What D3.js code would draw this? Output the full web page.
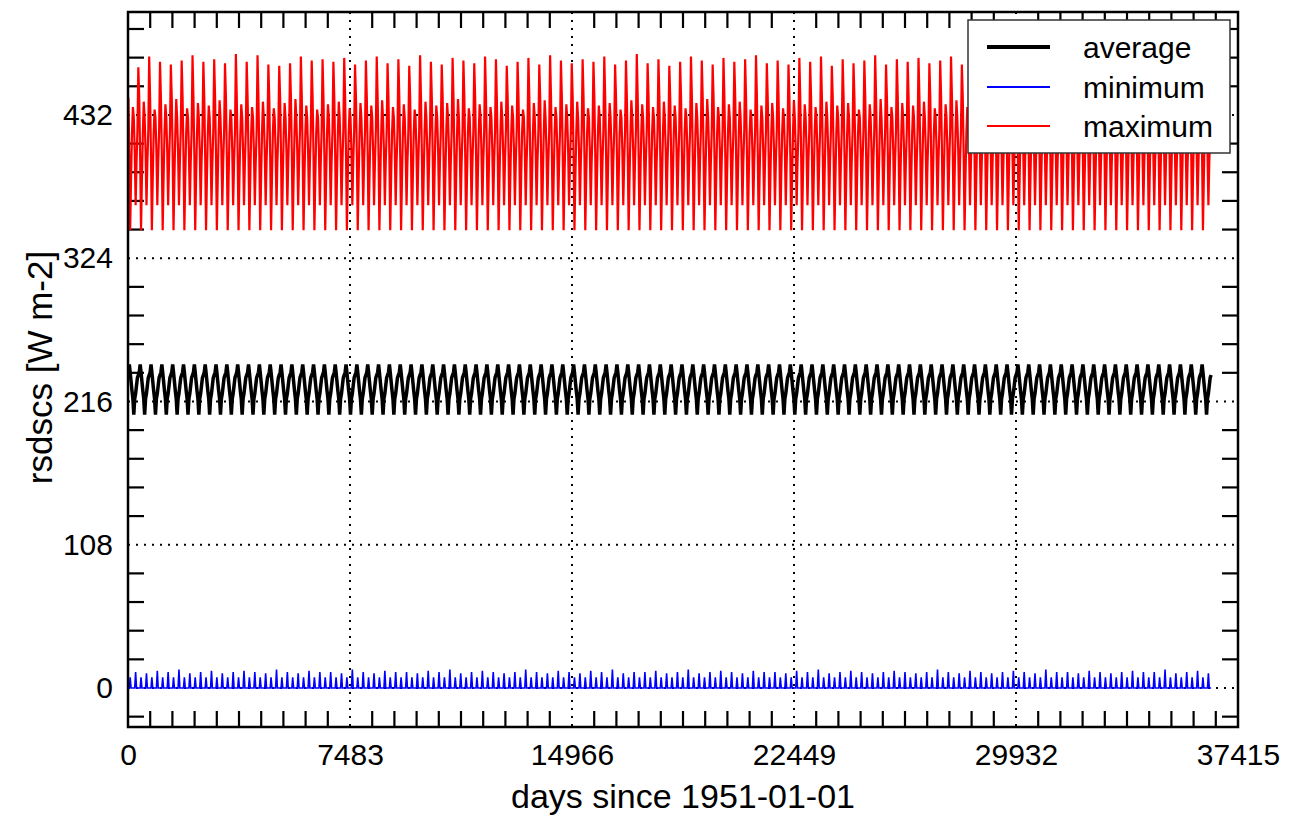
<!DOCTYPE html>
<html><head><meta charset="utf-8">
<script src="https://cdn.jsdelivr.net/npm/d3@7"></script>
<style>
body{margin:0;background:#fff}
svg{display:block}
text{font-family:"Liberation Sans",Arial,Helvetica,sans-serif;fill:#000}
</style>
</head><body>
<svg id="chart" width="1293" height="817"></svg>
<script>
// ---- data ----
const years = d3.range(1951, 2051);
const monthIndex = d3.range(0, 12);
// typical monthly values (Jan..Dec)
const avgClim = [238, 244, 238, 231, 224, 218, 206, 218, 222, 228, 234, 236];
const minClim = [0, 0, 8, 0, 0, 0, 0, 0, 12, 0, 0, 0];
const maxClim = [445, 400, 345, 385, 418, 440, 430, 405, 364, 396, 420, 474];
// year-to-year December peak of the maximum series
const maxDecPeak = [468,476,472,470,473,477,472,474,471,478,
  472,477,470,469,471,476,473,474,472,475,
  470,473,476,471,474,469,477,472,470,475,
  473,471,476,474,469,472,475,470,477,473,
  471,474,472,476,470,473,478,471,474,469,
  472,476,473,470,475,472,474,477,471,473,
  470,475,472,476,469,474,471,473,477,470,
  474,472,475,471,473,476,470,474,472,475,
  469,473,476,471,474,472,477,470,473,475,
  471,474,470,476,472,473,475,469,474,471];
// year-to-year June peak of the maximum series
const maxJunPeak = [438,442,436,440,444,437,441,439,443,436,
  440,438,442,437,441,444,439,436,440,442,
  437,441,439,443,438,440,436,442,439,441,
  444,437,440,438,442,439,436,441,443,438,
  440,442,437,439,441,436,443,440,438,442,
  439,437,441,444,438,440,442,436,439,441,
  437,443,440,438,442,439,441,436,440,444,
  438,441,439,442,437,440,443,438,441,439,
  442,436,440,443,438,441,439,437,442,440,
  438,441,444,437,440,439,442,438,441,436];
// year-to-year September spike of the minimum series
const minSepSpike = [12,11,13,12,14,11,12,13,11,12,
  13,12,11,14,12,11,13,12,12,11,
  14,12,11,13,12,12,11,13,12,14,
  11,12,13,12,11,12,14,12,11,13,
  12,11,13,12,14,11,12,12,13,11,
  12,14,11,12,13,12,11,13,12,12,
  11,13,12,14,11,12,13,12,11,12,
  13,12,11,12,14,12,11,13,12,11,
  12,13,12,11,14,12,12,11,13,12,
  11,12,13,12,12,14,11,12,13,11];
const xTicks = [0, 7483, 14966, 22449, 29932, 37415];
const yTicks = [0, 108, 216, 324, 432];
const seriesNames = ["average", "minimum", "maximum"];
const seriesColors = ["#000000", "#0000ff", "#ff0000"];
const seriesWidths = [3.5, 1.6, 2.2];
const xTitle = "days since 1951-01-01";
const yTitle = "rsdscs [W m-2]";

// ---- build series ----
const origin = new Date(Date.UTC(1951, 0, 1));
const rows = [];
years.forEach((yr, i) => {
  monthIndex.forEach(m => {
    const day = d3.utcDay.count(origin, new Date(Date.UTC(yr, m, 15)));
    let mx = maxClim[m];
    if (m === 11) mx = maxDecPeak[i];
    if (m === 5) mx = maxJunPeak[i];
    rows.push({
      day,
      average: avgClim[m],
      minimum: m === 8 ? minSepSpike[i] : minClim[m],
      maximum: mx
    });
  });
});

// ---- layout ----
const L = 128, R = 1238, T = 12, B = 727;
const svg = d3.select("#chart");
const x = d3.scaleLinear().domain([0, 37415]).range([L, R]);
const y = d3.scaleLinear().domain([-29.4, 509.6]).range([B, T]);

svg.append("defs").append("clipPath").attr("id", "clip")
  .append("rect").attr("x", L).attr("y", T).attr("width", R - L).attr("height", B - T);

// grid (dotted)
const grid = svg.append("g").attr("stroke", "#000").attr("stroke-width", 2)
  .attr("stroke-dasharray", "2,6");
yTicks.forEach(v => grid.append("line")
  .attr("x1", L).attr("x2", R).attr("y1", y(v)).attr("y2", y(v)));
xTicks.slice(1, -1).forEach(v => grid.append("line")
  .attr("x1", x(v)).attr("x2", x(v)).attr("y1", T).attr("y2", B));

// minor ticks
const xStep = 7483 / 10;
const xMinor = d3.range(1, 50).map(k => k * xStep).filter((v, k) => (k + 1) % 10 !== 0 && v < 37415);
const yStep = 108 / 5;
const yMinor = d3.range(-1, 24).map(k => k * yStep).filter(v => Math.round(v / yStep) % 5 !== 0 && v < 509.6 && v > -29.4);
const tk = svg.append("g").attr("stroke", "#000").attr("stroke-width", 2.2);
xMinor.forEach(v => {
  tk.append("line").attr("x1", x(v)).attr("x2", x(v)).attr("y1", B).attr("y2", B - 16);
  tk.append("line").attr("x1", x(v)).attr("x2", x(v)).attr("y1", T).attr("y2", T + 16);
});
yMinor.forEach(v => {
  tk.append("line").attr("x1", L).attr("x2", L + 16).attr("y1", y(v)).attr("y2", y(v));
  tk.append("line").attr("x1", R).attr("x2", R - 16).attr("y1", y(v)).attr("y2", y(v));
});

// series lines
const plot = svg.append("g").attr("clip-path", "url(#clip)");
[0, 2, 1].forEach(si => {
  const key = seriesNames[si];
  const line = d3.line().x(d => x(d.day)).y(d => y(d[key]));
  plot.append("path").datum(rows)
    .attr("fill", "none")
    .attr("stroke", seriesColors[si])
    .attr("stroke-width", seriesWidths[si])
    .attr("stroke-linejoin", "miter")
    .attr("d", line);
});

// frame
svg.append("rect").attr("x", L).attr("y", T).attr("width", R - L).attr("height", B - T)
  .attr("fill", "none").attr("stroke", "#000").attr("stroke-width", 2.5);

// tick labels via axes
const xAxis = svg.append("g").attr("transform", `translate(0,${B})`)
  .call(d3.axisBottom(x).tickValues(xTicks).tickSize(0).tickPadding(17).tickFormat(d3.format("d")));
xAxis.select(".domain").remove();
xAxis.selectAll("text").style("font-size", "30px").attr("fill", "#000");

const yAxis = svg.append("g").attr("transform", `translate(${L},0)`)
  .call(d3.axisLeft(y).tickValues(yTicks).tickSize(0).tickPadding(15).tickFormat(d3.format("d")));
yAxis.select(".domain").remove();
yAxis.selectAll("text").style("font-size", "30px").attr("fill", "#000");

// titles
svg.append("text").attr("x", (L + R) / 2).attr("y", 808).attr("text-anchor", "middle")
  .style("font-size", "34px").text(xTitle);
svg.append("text").attr("transform", `translate(52,${(T + B) / 2 - 2}) rotate(-90)`)
  .attr("text-anchor", "middle").style("font-size", "35px").text(yTitle);

// legend
const lg = svg.append("g");
lg.append("rect").attr("x", 968).attr("y", 20).attr("width", 262).attr("height", 133)
  .attr("fill", "#fff").attr("stroke", "#333").attr("stroke-width", 1.5);
const legY = [47, 87, 126];
seriesNames.forEach((n, i) => {
  lg.append("line").attr("x1", 987).attr("x2", 1050).attr("y1", legY[i]).attr("y2", legY[i])
    .attr("stroke", seriesColors[i]).attr("stroke-width", i === 0 ? 4 : 2);
  lg.append("text").attr("x", 1083).attr("y", legY[i]).attr("dy", "0.35em")
    .style("font-size", "30px").text(n);
});
</script>
</body></html>
